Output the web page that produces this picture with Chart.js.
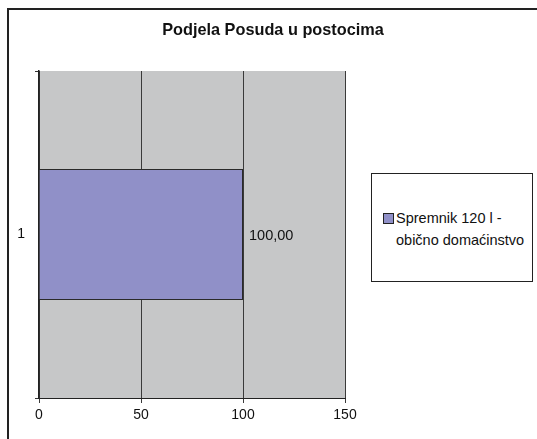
<!DOCTYPE html>
<html><head><meta charset="utf-8">
<script src="https://cdn.jsdelivr.net/npm/chart.js@4"></script>
<style>
html,body{margin:0;padding:0;background:#fff;}
#wrap{position:relative;width:537px;height:439px;overflow:hidden;font-family:"Liberation Sans",Arial,sans-serif;}
#frame{position:absolute;left:7px;top:8px;width:600px;height:600px;border-left:2px solid #222;border-top:2px solid #222;box-sizing:border-box;}
#title{position:absolute;left:0;width:546px;top:20px;text-align:center;font-weight:bold;font-size:16.3px;color:#111;}
#legend{position:absolute;left:371px;top:173px;width:162px;height:109px;border:1px solid #222;box-sizing:border-box;background:#fff;}
#legend .sw{position:absolute;left:11px;top:39px;width:9px;height:9px;background:#9090C8;border:1px solid #222;}
#legend .tx{position:absolute;left:24px;top:33px;font-size:14.5px;line-height:22px;color:#111;white-space:nowrap;}
canvas{position:absolute;left:0;top:0;}
</style></head>
<body><div id="wrap">
<div id="frame"></div>
<canvas id="c" width="537" height="439"></canvas>
<div id="title">Podjela Posuda u postocima</div>
<div id="legend"><div class="sw"></div><div class="tx">Spremnik 120 l -<br>obično domaćinstvo</div></div>
</div>
<script>
const categories = ["1"];
const seriesName = "Spremnik 120 l - obično domaćinstvo";
const values = [100];
const xTicks = [0, 50, 100, 150];

const bgPlugin = {
  id: 'bg',
  beforeDraw(chart) {
    const a = chart.chartArea, ctx = chart.ctx;
    ctx.save(); ctx.fillStyle = '#C6C7C8';
    ctx.fillRect(a.left, a.top, a.right - a.left, a.bottom - a.top);
    ctx.restore();
  },
  afterDatasetsDraw(chart) {
    const ctx = chart.ctx;
    const meta = chart.getDatasetMeta(0);
    ctx.save();
    ctx.font = '14.5px "Liberation Sans", Arial, sans-serif';
    ctx.fillStyle = '#111'; ctx.textBaseline = 'middle'; ctx.textAlign = 'left';
    meta.data.forEach((el, i) => {
      ctx.fillText(values[i].toFixed(2).replace('.', ','), el.x + 6, el.y + 1);
    });
    ctx.restore();
  }
};

new Chart(document.getElementById('c'), {
  type: 'bar',
  data: {
    labels: categories,
    datasets: [{
      label: seriesName,
      data: values,
      backgroundColor: '#9090C8',
      borderColor: '#2a2a2a',
      borderWidth: 1,
      barPercentage: 0.4,
      categoryPercentage: 1
    }]
  },
  options: {
    indexAxis: 'y',
    responsive: false,
    animation: false,
    devicePixelRatio: 1,
    layout: { padding: { top: 71, right: 192, left: 0, bottom: 0 } },
    plugins: { legend: { display: false }, title: { display: false }, tooltip: { enabled: false } },
    scales: {
      x: {
        min: 0, max: 150,
        afterBuildTicks(s) { s.ticks = xTicks.map(v => ({ value: v })); },
        afterFit(s) { s.height = 41; },
        grid: { color: '#3a3a3a', lineWidth: 1, tickLength: 5, drawTicks: true },
        border: { color: '#222', width: 1 },
        ticks: { color: '#111', padding: 4, font: { family: '"Liberation Sans", Arial, sans-serif', size: 14 } }
      },
      y: {
        offset: true,
        afterFit(s) { s.width = 39; },
        grid: { offset: true, drawOnChartArea: false, drawTicks: true, tickLength: 4, color: '#333' },
        border: { color: '#222', width: 1.5 },
        ticks: { color: '#111', padding: 10, font: { family: '"Liberation Sans", Arial, sans-serif', size: 14 } }
      }
    }
  },
  plugins: [bgPlugin]
});
</script>
</body></html>
